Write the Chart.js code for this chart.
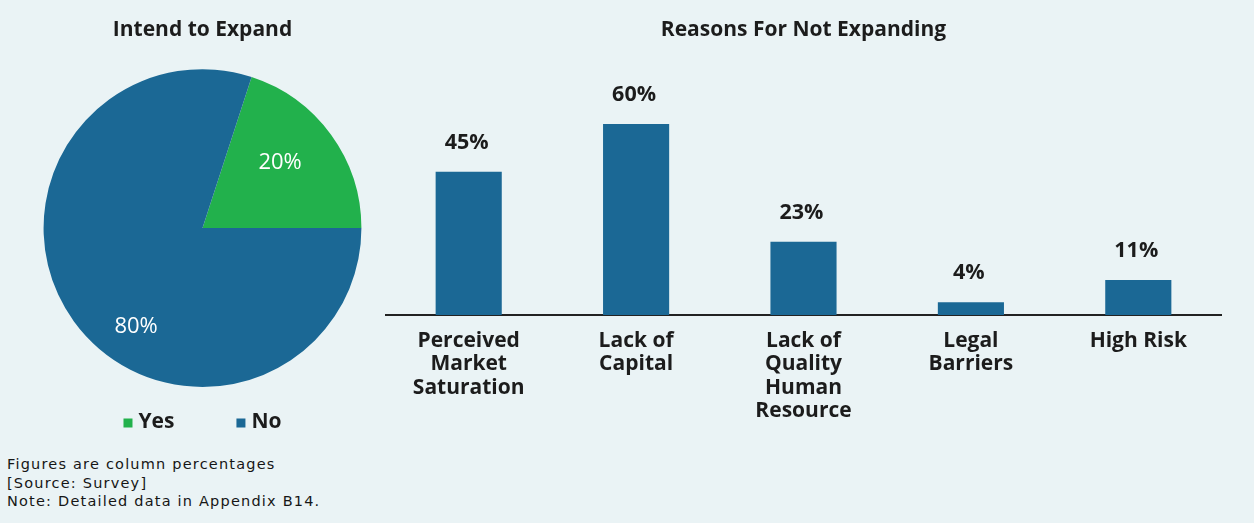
<!DOCTYPE html>
<html>
<head>
<meta charset="utf-8">
<script src="https://cdn.jsdelivr.net/npm/chart.js@4/dist/chart.umd.min.js"></script>
<style>
  html, body { margin: 0; padding: 0; }
  body { width: 1254px; height: 523px; background: #eaf3f5; position: relative; overflow: hidden; }
  #pieWrap { position: absolute; left: 0; top: 0; width: 405px; height: 440px; }
  #barWrap { position: absolute; left: 385px; top: 0; width: 837px; height: 440px; }
  #notes {
    position: absolute; left: 7px; top: 455px;
    font-family: "DejaVu Sans", sans-serif; font-size: 14.5px; line-height: 18.5px;
    letter-spacing: 1.2px; color: #161616;
  }
</style>
</head>
<body>
<div id="pieWrap"><canvas id="pie"></canvas></div>
<div id="barWrap"><canvas id="bar"></canvas></div>
<div id="notes">Figures are column percentages<br>[Source: Survey]<br>Note: Detailed data in Appendix B14.</div>
<script>
// Intend to expand (pie)
const expandLabels = ['Yes', 'No'];
const expandValues = [20, 80];

// Reasons for not expanding (bars)
const reasonLabels = [
  ['Perceived', 'Market', 'Saturation'],
  ['Lack of', 'Capital'],
  ['Lack of', 'Quality', 'Human', 'Resource'],
  ['Legal', 'Barriers'],
  ['High Risk']
];
const reasonValues = [45, 60, 23, 4, 11];

const BLUE = '#1b6895';
const GREEN = '#22b14c';
const INK = '#1c1c1c';
const FONT = '"Open Sans", Lato, sans-serif';

Chart.defaults.font.family = FONT;
Chart.defaults.color = INK;
Chart.defaults.animation = false;

// Percent labels inside the pie slices
const sliceLabels = {
  id: 'sliceLabels',
  afterDatasetsDraw(chart, args, opts) {
    const ctx = chart.ctx;
    const meta = chart.getDatasetMeta(0);
    const values = chart.data.datasets[0].data;
    ctx.save();
    ctx.fillStyle = '#ffffff';
    ctx.font = '22px ' + FONT;
    ctx.textAlign = 'center';
    ctx.textBaseline = 'middle';
    meta.data.forEach((arc, i) => {
      const a = arc.startAngle + (arc.endAngle - arc.startAngle) * opts.angleFrac[i];
      const r = arc.outerRadius * opts.radiusFrac[i];
      ctx.fillText(values[i] + '%', arc.x + Math.cos(a) * r, arc.y + Math.sin(a) * r);
    });
    ctx.restore();
  }
};

// Square-marker legend under the pie
const pieLegend = {
  id: 'pieLegend',
  afterDraw(chart, args, opts) {
    const ctx = chart.ctx;
    const colors = chart.data.datasets[0].backgroundColor;
    const labels = chart.data.labels;
    ctx.save();
    ctx.font = 'bold 21px ' + FONT;
    ctx.textBaseline = 'middle';
    const y = chart.chartArea.bottom + opts.offsetY;
    const box = 9, gapText = 6;
    const widths = labels.map(t => box + gapText + ctx.measureText(t).width);
    const total = widths.reduce((s, w) => s + w, 0) + opts.itemGap * (labels.length - 1);
    let x = (chart.chartArea.left + chart.chartArea.right) / 2 - total / 2;
    labels.forEach((t, i) => {
      ctx.fillStyle = colors[i];
      ctx.fillRect(x, y - box / 2 + 1, box, box);
      ctx.fillStyle = INK;
      ctx.fillText(t, x + box + gapText, y);
      x += widths[i] + opts.itemGap;
    });
    ctx.restore();
  }
};

new Chart(document.getElementById('pie'), {
  type: 'pie',
  data: {
    labels: expandLabels,
    datasets: [{
      data: expandValues,
      backgroundColor: [GREEN, BLUE],
      borderWidth: 0
    }]
  },
  options: {
    responsive: true,
    maintainAspectRatio: false,
    rotation: 18,
    layout: { padding: { bottom: 53 } },
    plugins: {
      legend: { display: false },
      tooltip: { enabled: false },
      title: {
        display: true,
        text: 'Intend to Expand',
        color: INK,
        font: { size: 21, weight: 'bold', lineHeight: 1.15 },
        padding: { top: 18, bottom: 27 }
      },
      sliceLabels: { angleFrac: [0.44, 0.43], radiusFrac: [0.64, 0.75] },
      pieLegend: { offsetY: 35, itemGap: 62 }
    }
  },
  plugins: [sliceLabels, pieLegend]
});

// Value labels above each bar
const barValues = {
  id: 'barValues',
  afterDatasetsDraw(chart, args, opts) {
    const ctx = chart.ctx;
    const meta = chart.getDatasetMeta(0);
    const values = chart.data.datasets[0].data;
    ctx.save();
    ctx.fillStyle = INK;
    ctx.font = 'bold 21.5px ' + FONT;
    ctx.textAlign = 'center';
    ctx.textBaseline = 'middle';
    meta.data.forEach((bar, i) => {
      ctx.fillText(values[i] + '%', bar.x - 2, bar.y - opts.gap);
    });
    ctx.restore();
  }
};

new Chart(document.getElementById('bar'), {
  type: 'bar',
  data: {
    labels: reasonLabels,
    datasets: [{
      data: reasonValues,
      backgroundColor: BLUE,
      borderWidth: 0,
      categoryPercentage: 1,
      barPercentage: 0.395
    }]
  },
  options: {
    responsive: true,
    maintainAspectRatio: false,
    layout: { padding: 0 },
    scales: {
      x: {
        grid: { display: false, drawTicks: false },
        border: { display: true, color: '#222222', width: 2 },
        ticks: {
          color: INK,
          padding: 14,
          font: { size: 21, weight: 'bold', lineHeight: 1.12 },
          maxRotation: 0,
          autoSkip: false
        },
        afterFit(scale) { scale.height = 125; }
      },
      y: {
        display: false,
        min: 0,
        max: 70
      }
    },
    plugins: {
      legend: { display: false },
      tooltip: { enabled: false },
      title: {
        display: true,
        text: 'Reasons For Not Expanding',
        color: INK,
        font: { size: 21, weight: 'bold', lineHeight: 1.15 },
        padding: { top: 18, bottom: 50 }
      },
      barValues: { gap: 29 }
    }
  },
  plugins: [barValues]
});
</script>
</body>
</html>
